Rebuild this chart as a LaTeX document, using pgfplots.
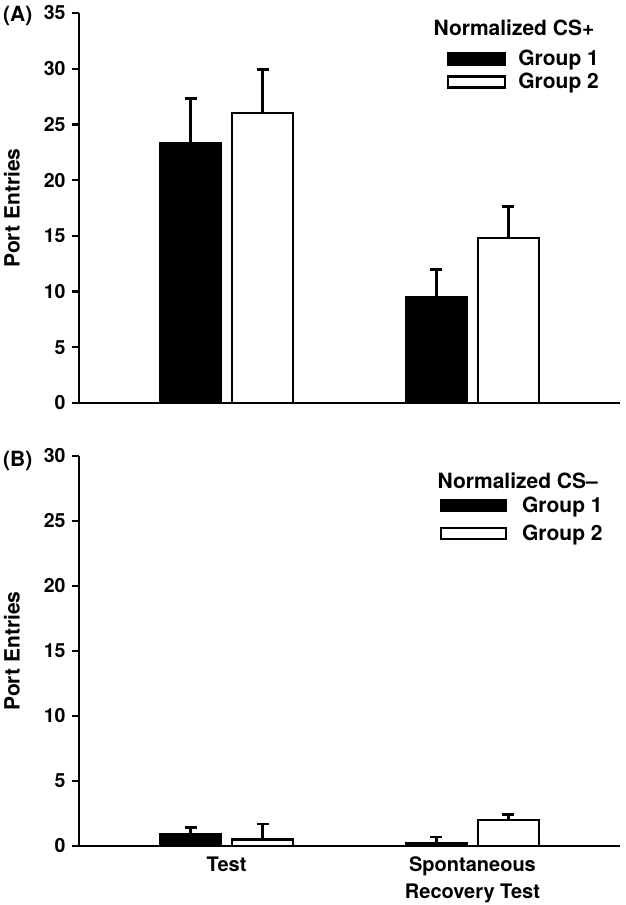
\documentclass[border=0pt]{standalone}
\usepackage{fontspec}
\setmainfont{TeX Gyre Heros}
\usepackage{pgfplots}
\usepackage{pgfplotstable}
\pgfplotsset{compat=1.18}

\pgfplotstableread{
x y e
0 23.3 4.0
1 9.5 2.5
}\topA
\pgfplotstableread{
x y e
0 26.0 3.9
1 14.8 2.8
}\topB
\pgfplotstableread{
x y e
0 0.9 0.5
1 0.25 0.45
}\botA
\pgfplotstableread{
x y e
0 0.5 1.2
1 2.0 0.45
}\botB

\pgfplotsset{
  boxlegA/.style={legend image code/.code={\draw[##1, line width=2.4pt] (0pt,-5.5pt) rectangle (57pt,5.5pt); \path (67pt,0pt);}},
  boxlegB/.style={legend image code/.code={\draw[##1, line width=2.4pt] (0pt,-5.5pt) rectangle (65pt,5.5pt); \path (78pt,0pt);}},
  panel/.style={
    scale only axis, width=541pt, height=390pt,
    xmin=-0.6, xmax=1.6, ymin=0,
    xtick={0,1},
    ybar=11pt, bar width=61pt,
    axis x line*=bottom, axis y line*=left,
    axis line style={line width=2.6pt, -},
    tick align=outside, major tick length=7pt,
    y tick style={line width=2.4pt, black},
    x tick style={draw=none},
    /pgf/number format/assume math mode=true,
    yticklabel style={font=\fontsize{19.5}{22}\selectfont\bfseries, xshift=-3pt},
    xticklabel style={align=center, font=\fontsize{20}{27}\selectfont\bfseries},
    ylabel={Port Entries},
    every axis y label/.style={at={(axis description cs:-0.124,0.5)}, rotate=90, anchor=center, font=\fontsize{21}{24}\selectfont\bfseries},
    error bars/y dir=plus, error bars/y explicit,
    error bars/error bar style={line width=2.4pt, black},
    error bars/error mark options={rotate=90, line width=2.8pt, mark size=6pt, black},
    legend cell align=left,
    clip=false,
  },
}

\begin{document}
\begin{tikzpicture}
\path[use as bounding box] (-79pt,-59pt) rectangle (546pt,846pt);

% Panel A
\begin{axis}[panel, at={(0pt,443pt)}, anchor=south west,
  ymax=35, ytick={0,5,...,35}, xticklabels={,},
  legend style={draw=none, fill=none, at={(axis description cs:0.965,0.91)}, anchor=north east,
    font=\fontsize{21}{24}\selectfont\bfseries, row sep=2pt, inner sep=0pt},
]
\addplot[fill=black, draw=black, line width=2.4pt, boxlegA]
  table[x=x, y=y, y error=e] {\topA};
\addlegendentry{Group 1}
\addplot[fill=white, draw=black, line width=2.4pt, boxlegA]
  table[x=x, y=y, y error=e] {\topB};
\addlegendentry{Group 2}
\node[font=\fontsize{21}{24}\selectfont\bfseries, anchor=center] at (axis description cs:0.804,0.963) {Normalized CS+};
\node[font=\fontsize{21}{24}\selectfont\bfseries, anchor=base west, inner sep=0pt] at (axis description cs:-0.1405,0.977) {(A)};
\end{axis}

% Panel B
\begin{axis}[panel, at={(0pt,0pt)}, anchor=south west,
  ymax=30, ytick={0,5,...,30},
  xticklabels={Test, {Spontaneous\\Recovery Test}},
  legend style={draw=none, fill=none, at={(axis description cs:0.972,0.90)}, anchor=north east,
    font=\fontsize{21}{24}\selectfont\bfseries, row sep=7pt, inner sep=0pt},
]
\addplot[fill=black, draw=black, line width=2.4pt, boxlegB]
  table[x=x, y=y, y error=e] {\botA};
\addlegendentry{Group 1}
\addplot[fill=white, draw=black, line width=2.4pt, boxlegB]
  table[x=x, y=y, y error=e] {\botB};
\addlegendentry{Group 2}
\node[font=\fontsize{21}{24}\selectfont\bfseries, anchor=center] at (axis description cs:0.811,0.937) {Normalized CS–};
\node[font=\fontsize{21}{24}\selectfont\bfseries, anchor=base west, inner sep=0pt] at (axis description cs:-0.1405,0.972) {(B)};
\end{axis}
\end{tikzpicture}
\end{document}
